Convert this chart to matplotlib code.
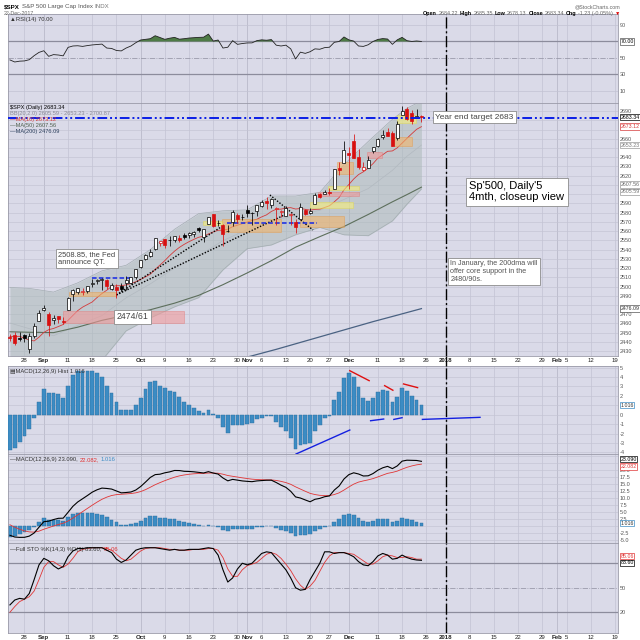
import matplotlib
matplotlib.use("Agg")
import matplotlib.pyplot as plt
import matplotlib.transforms as mtransforms
from matplotlib.lines import Line2D
from matplotlib.patches import Rectangle
import numpy as np
import pandas as pd

plt.rcParams["font.family"] = ["Liberation Sans", "DejaVu Sans"]

# %%
# Price data ($SPX daily, 23 Aug - 22 Dec 2017)
opens = [2444.9, 2447.9, 2444.7, 2447.4, 2431.9, 2446.1, 2462.7, 2474.4, 2470.4, 2463.8,
         2468.1, 2462.3, 2474.5, 2491.9, 2493.9, 2494.6, 2495.7, 2502.5, 2506.3, 2506.8,
         2507.2, 2497.3, 2499.4, 2501.0, 2503.3, 2503.4, 2509.9, 2521.2, 2530.3, 2533.5,
         2540.9, 2547.4, 2551.4, 2550.0, 2550.6, 2552.9, 2555.7, 2555.6, 2557.2, 2562.9,
         2553.4, 2567.6, 2578.1, 2568.7, 2566.5, 2560.1, 2570.3, 2577.8, 2575.0, 2583.2,
         2579.5, 2581.9, 2587.5, 2592.1, 2588.7, 2584.0, 2580.2, 2576.5, 2577.8, 2569.4,
         2573.0, 2582.9, 2579.5, 2589.2, 2600.3, 2600.4, 2602.7, 2605.9, 2627.8, 2633.9,
         2645.1, 2657.2, 2639.8, 2626.2, 2628.4, 2646.2, 2652.2, 2661.7, 2667.6, 2665.9,
         2660.6, 2685.9, 2692.7, 2688.2, 2683.0, 2684.2]
highs = [2448.9, 2450.4, 2451.0, 2449.1, 2449.2, 2460.6, 2475.0, 2480.4, 2472.0, 2469.6,
         2468.6, 2467.1, 2488.9, 2496.8, 2498.4, 2498.4, 2500.2, 2508.3, 2507.8, 2508.9,
         2507.8, 2503.5, 2502.5, 2503.5, 2511.8, 2510.8, 2519.4, 2529.2, 2535.1, 2540.5,
         2552.5, 2549.4, 2551.8, 2555.2, 2555.2, 2555.3, 2557.7, 2559.5, 2559.7, 2564.1,
         2562.4, 2575.4, 2578.3, 2572.2, 2567.4, 2567.1, 2583.0, 2580.0, 2578.3, 2588.4,
         2581.1, 2588.4, 2593.4, 2597.0, 2595.5, 2586.5, 2583.0, 2587.7, 2579.7, 2572.8,
         2590.1, 2584.0, 2584.6, 2601.2, 2600.9, 2604.2, 2606.4, 2627.7, 2634.9, 2657.7,
         2650.6, 2665.2, 2648.7, 2634.4, 2641.0, 2651.6, 2660.3, 2669.7, 2671.9, 2668.1,
         2679.6, 2695.0, 2694.4, 2691.0, 2692.6, 2685.35]
lows = [2441.4, 2436.2, 2441.0, 2439.7, 2428.2, 2443.8, 2462.7, 2473.9, 2446.6, 2459.2,
        2460.3, 2459.4, 2474.5, 2484.5, 2492.1, 2491.0, 2493.2, 2499.9, 2503.2, 2496.7,
        2497.0, 2496.5, 2488.0, 2495.1, 2495.9, 2502.9, 2507.8, 2520.4, 2528.9, 2531.8,
        2540.0, 2543.8, 2541.6, 2544.4, 2548.0, 2548.3, 2552.0, 2552.6, 2554.0, 2559.2,
        2547.9, 2567.6, 2564.3, 2565.6, 2544.0, 2559.4, 2565.9, 2568.6, 2572.2, 2574.9,
        2566.2, 2576.8, 2585.7, 2584.1, 2585.0, 2566.3, 2575.6, 2576.5, 2566.6, 2557.5,
        2573.0, 2577.6, 2578.2, 2589.2, 2596.1, 2600.4, 2598.9, 2605.4, 2620.3, 2633.9,
        2605.5, 2639.3, 2627.7, 2624.8, 2628.4, 2644.1, 2651.5, 2659.8, 2662.9, 2652.0,
        2659.1, 2685.9, 2680.7, 2676.1, 2682.4, 2678.1]
closes = [2444.0, 2439.0, 2443.1, 2444.2, 2446.3, 2457.6, 2471.7, 2476.6, 2457.9, 2465.5,
          2465.1, 2461.4, 2488.1, 2496.5, 2498.4, 2495.6, 2500.2, 2503.9, 2506.7, 2508.2,
          2500.6, 2502.2, 2496.7, 2496.8, 2507.0, 2510.1, 2519.4, 2529.1, 2534.6, 2537.7,
          2552.1, 2549.3, 2544.7, 2550.6, 2555.2, 2550.9, 2553.2, 2557.6, 2559.4, 2561.3,
          2562.1, 2575.2, 2565.0, 2569.1, 2557.2, 2560.4, 2581.1, 2572.8, 2575.3, 2579.4,
          2579.9, 2587.8, 2591.1, 2590.6, 2594.4, 2584.6, 2582.3, 2584.8, 2578.9, 2564.6,
          2585.6, 2578.9, 2582.1, 2599.0, 2597.1, 2602.4, 2601.4, 2627.0, 2626.1, 2647.6,
          2642.2, 2639.4, 2629.6, 2629.3, 2637.0, 2651.5, 2660.0, 2664.1, 2662.9, 2652.0,
          2675.8, 2690.2, 2681.5, 2679.3, 2684.6, 2683.3]
close_before = 2452.51  # 22 Aug close, decides the colour of the first candle

# overlays on the price panel
ma10 = [2445.9, 2445.9, 2446.1, 2444.0, 2442.1, 2441.1, 2445.2, 2450.3, 2453.3, 2454.6,
        2456.7, 2458.9, 2463.4, 2468.7, 2473.9, 2477.7, 2480.5, 2483.3, 2488.1, 2492.4,
        2496.0, 2500.0, 2500.9, 2500.9, 2501.8, 2503.2, 2505.2, 2507.7, 2510.5, 2513.4,
        2518.6, 2523.3, 2528.1, 2533.5, 2538.3, 2542.4, 2545.7, 2548.6, 2551.1, 2553.4,
        2554.4, 2557.0, 2559.1, 2560.9, 2561.1, 2562.1, 2564.8, 2566.4, 2568.0, 2569.8,
        2571.5, 2572.8, 2575.4, 2577.6, 2581.3, 2583.7, 2583.8, 2585.0, 2585.4, 2583.9,
        2584.5, 2583.6, 2582.7, 2583.5, 2583.8, 2585.6, 2587.5, 2591.7, 2596.4, 2604.7,
        2610.4, 2616.4, 2621.2, 2624.2, 2628.2, 2633.1, 2639.0, 2642.7, 2646.4, 2646.8,
        2650.2, 2655.2, 2660.4, 2665.4, 2670.2, 2673.1]
slow_idx = [0, 4, 9, 14, 19, 24, 29, 34, 39, 44, 49, 54, 59, 64, 69, 74, 79, 82, 85]
ma50 = [2451.0, 2450.5, 2450.1, 2456.0, 2463.4, 2469.0, 2474.9, 2482.0, 2490.5, 2502.0,
        2514.7, 2528.0, 2542.6, 2554.0, 2565.0, 2578.0, 2591.7, 2599.5, 2607.6]
bb_upper = [2499, 2498, 2494, 2504, 2517, 2523, 2540, 2562, 2579, 2582,
            2583, 2598, 2598, 2602, 2632, 2657, 2681, 2693, 2700.9]
bb_mid = [2460.5, 2454.4, 2446.7, 2458.0, 2468.5, 2487.8, 2502.9, 2520.0, 2533.4, 2549.7,
          2561.6, 2571.2, 2576.8, 2582.5, 2594.3, 2606.0, 2625.8, 2641.0, 2653.2]
bb_lower = [2422, 2411, 2400, 2410, 2420, 2452, 2466, 2478, 2488, 2518,
            2541, 2545, 2556, 2564, 2556, 2555, 2571, 2589, 2605.6]
ma200_idx = [47, 50, 55, 60, 65, 70, 75, 80, 85]
ma200 = [2421.0, 2425.0, 2432.0, 2439.5, 2447.0, 2454.5, 2462.0, 2469.0, 2476.1]

# indicators
rsi = [47.5, 45.0, 46.0, 46.3, 47.8, 52.7, 56.7, 58.7, 51.9, 54.0,
       53.5, 52.5, 62.8, 64.5, 64.8, 64.0, 65.0, 65.8, 66.3, 66.8,
       62.0, 61.5, 59.0, 58.5, 62.0, 64.5, 68.5, 71.8, 72.6, 73.4,
       77.0, 74.8, 72.6, 74.0, 75.0, 72.8, 73.4, 74.2, 74.6, 75.0,
       75.2, 79.0, 70.5, 71.8, 62.0, 63.0, 71.0, 66.5, 67.5, 68.2,
       68.3, 71.0, 72.0, 71.5, 72.3, 65.5, 64.5, 65.5, 61.0, 48.7,
       57.0, 55.5, 57.5, 61.0, 60.5, 62.5, 63.0, 69.0, 70.0, 75.5,
       72.0, 70.5, 64.5, 64.0, 66.0, 70.0, 72.5, 73.5, 73.0, 66.5,
       72.0, 75.0, 71.0, 70.0, 70.6, 70.0]
macd_hist = [-3.76, -3.5, -2.9, -2.3, -1.5, -0.3, 1.4, 2.7, 2.3, 2.3,
             2.2, 1.8, 3.1, 4.2, 4.6, 4.6, 4.6, 4.65, 4.4, 4.0,
             3.1, 2.3, 1.3, 0.5, 0.5, 0.55, 1.0, 1.8, 2.7, 3.5,
             3.6, 3.0, 2.8, 2.5, 2.4, 1.9, 1.3, 1.0, 0.7, 0.4,
             0.15, 0.5, 0.05, -0.3, -1.35, -1.9, -1.1, -1.1, -1.1, -1.0,
             -0.9, -0.5, -0.3, -0.15, -0.1, -0.75, -1.35, -1.7, -2.5, -3.6,
             -3.2, -3.1, -3.0, -1.7, -1.1, -0.4, -0.1, 1.6, 2.45, 3.95,
             4.4, 4.05, 2.9, 1.75, 1.45, 1.8, 2.4, 2.6, 2.5, 1.35,
             1.85, 2.85, 2.55, 2.0, 1.56, 1.016]
macd_line = [-3.32, -3.94, -4.06, -4.04, -3.61, -2.49, -0.44, 1.54, 1.72, 2.29,
             2.74, 2.79, 4.87, 7.02, 8.57, 9.72, 10.87, 12.08, 12.93, 13.53,
             13.40, 13.18, 12.50, 11.83, 11.95, 12.14, 12.84, 14.09, 15.67, 17.34,
             18.34, 18.49, 18.99, 19.32, 19.82, 19.79, 19.52, 19.47, 19.34, 19.14,
             18.93, 19.40, 18.90, 18.53, 17.14, 16.12, 16.64, 16.37, 16.09, 15.94,
             15.82, 16.09, 16.22, 16.33, 16.35, 15.52, 14.58, 13.80, 12.38, 10.38,
             9.98, 9.30, 8.65, 9.53, 9.85, 10.45, 10.73, 12.83, 14.29, 16.78,
             18.33, 18.99, 18.57, 17.85, 17.92, 18.72, 19.92, 20.77, 21.29, 20.48,
             21.44, 23.15, 23.49, 23.44, 23.39, 23.09]
macd_signal = [0.44, -0.44, -1.16, -1.74, -2.11, -2.19, -1.84, -1.16, -0.59, -0.01,
               0.54, 0.99, 1.77, 2.82, 3.97, 5.12, 6.27, 7.43, 8.53, 9.53,
               10.30, 10.88, 11.20, 11.33, 11.45, 11.59, 11.84, 12.29, 12.97, 13.84,
               14.74, 15.49, 16.19, 16.82, 17.42, 17.89, 18.22, 18.47, 18.64, 18.74,
               18.78, 18.90, 18.90, 18.83, 18.49, 18.02, 17.74, 17.47, 17.19, 16.94,
               16.72, 16.59, 16.52, 16.48, 16.45, 16.27, 15.93, 15.50, 14.88, 13.98,
               13.18, 12.40, 11.65, 11.23, 10.95, 10.85, 10.83, 11.23, 11.84, 12.83,
               13.93, 14.94, 15.67, 16.10, 16.47, 16.92, 17.52, 18.17, 18.79, 19.13,
               19.59, 20.30, 20.94, 21.44, 21.83, 22.08]
sto_k = [29, 35, 37, 36, 43, 60, 78, 86, 83, 77,
         73, 76, 88, 95, 98, 98, 99, 99, 99, 99,
         96, 93, 85, 81, 84, 90, 96, 98, 99, 99,
         99, 98, 97, 96, 97, 96, 96, 97, 97, 97,
         98, 99, 98, 90, 72, 57, 62, 73, 80, 78,
         80, 86, 92, 94, 93, 86, 79, 72, 62, 50,
         47, 48, 60, 70, 80, 94, 94, 92, 93, 93,
         91, 88, 82, 78, 77, 82, 89, 92, 90, 85,
         86, 90, 87, 85, 84, 83.6]
sto_d = [20, 27, 33, 36, 39, 46, 60, 75, 82, 82,
         78, 75, 79, 86, 94, 97, 98, 99, 99, 99,
         98, 96, 91, 86, 83, 85, 90, 95, 98, 99,
         99, 99, 98, 97, 97, 96, 96, 96, 97, 97,
         97, 98, 98, 96, 87, 73, 64, 64, 72, 77,
         79, 81, 86, 91, 93, 91, 86, 79, 71, 61,
         53, 48, 52, 59, 70, 81, 89, 93, 93, 93,
         92, 91, 87, 83, 79, 79, 83, 88, 90, 89,
         87, 87, 88, 87, 85, 85.06]

# hand drawn notes on the chart: (x0, x1, y0, y1) in bar index / price
pink_zones = [(11.0, 36.0, 2461, 2474), (63.7, 72.0, 2598.3, 2602.7), (73.7, 76.8, 2639.5, 2646)]
orange_zones = [(12.1, 22.0, 2490.2, 2493.9), (43.7, 55.9, 2559.5, 2573), (59.9, 68.9, 2564.2, 2576.4),
                (67.6, 70.9, 2621.8, 2635.2), (79.4, 83.0, 2652.1, 2661.6)]
yellow_zones = [(39.9, 43.7, 2567.1, 2570.7), (62.0, 70.9, 2585.4, 2591.8), (65.8, 72.0, 2604.5, 2608.8),
                (79.9, 83.9, 2676.7, 2685.7)]
dotted_lines = [((22.0, 43.7), (2490.9, 2564.8)), ((22.0, 56.5), (2490.9, 2577.0)),
                ((53.7, 62.6), (2599.1, 2561.2))]
fed_level = (17.0, 25.1, 2508.85)
nov_level = (44.8, 63.4, 2568.8)
target_level = 2683
hist_red_marks = [((70.2, 74.2), (4.68, 3.62)), ((77.4, 79.1), (3.09, 2.6)), ((81.3, 84.2), (3.27, 2.88))]
hist_blue_marks = [((59.1, 70.2), (-4.18, -1.63)), ((74.5, 77.2), (-0.64, -0.46)),
                   ((79.3, 81.0), (-0.5, -0.32)), ((85.2, 97.1), (-0.5, -0.28))]

# date axis: trading days, then the empty future part
past_days = pd.bdate_range("2017-08-23", "2017-12-22")
past_days = past_days[~past_days.isin(pd.to_datetime(["2017-09-04", "2017-11-23"]))]
all_days = past_days.append(pd.bdate_range("2017-12-26", "2018-02-20"))
tick_dates = ["2017-08-28", "2017-09-01", "2017-09-11", "2017-09-18", "2017-09-25", "2017-10-02",
              "2017-10-09", "2017-10-16", "2017-10-23", "2017-10-30", "2017-11-01", "2017-11-06",
              "2017-11-13", "2017-11-20", "2017-11-27", "2017-12-01", "2017-12-11", "2017-12-18",
              "2017-12-26", "2018-01-01", "2018-01-08", "2018-01-15", "2018-01-22", "2018-01-29",
              "2018-02-01", "2018-02-05", "2018-02-12", "2018-02-19"]
tick_text = ["28", "Sep", "11", "18", "25", "Oct", "9", "16", "23", "30", "Nov", "6", "13", "20",
             "27", "Dec", "11", "18", "26", "2018", "8", "15", "22", "29", "Feb", "5", "12", "19"]
month_names = {"Sep", "Oct", "Nov", "Dec", "2018", "Feb"}
tick_pos = [all_days.get_loc(pd.Timestamp(d)) for d in tick_dates]
year_pos = all_days.get_loc(pd.Timestamp("2018-01-01"))

x = np.arange(len(closes))
opens, highs, lows, closes = map(np.array, (opens, highs, lows, closes))

# %%
# Figure and panels (pixel rows taken from the 640x640 original)
W = 640.0
fig = plt.figure(figsize=(6.4, 6.4), dpi=100)


def panel(top_px, bottom_px):
    return fig.add_axes([8 / W, 1 - bottom_px / W, 610 / W, (bottom_px - top_px) / W])


ax_rsi = panel(14, 103)
ax_px = panel(103, 356)
ax_hist = panel(366, 454)
ax_macd = panel(454, 543)
ax_sto = panel(543, 633)
panels = [ax_rsi, ax_px, ax_hist, ax_macd, ax_sto]

bg = "#dadae8"
grid_c = "#c3c3d3"
for ax in panels:
    ax.set_facecolor(bg)
    ax.set_xlim(-0.4, 125.6)
    ax.set_xticks(tick_pos)
    ax.set_xticklabels(tick_text)
    ax.tick_params(axis="x", length=0, labelbottom=False, labelsize=4.4, pad=1.5, labelcolor="#222")
    ax.grid(True, axis="x", color=grid_c, lw=0.5)
    ax.yaxis.tick_right()
    ax.tick_params(axis="y", length=0, labelsize=4, labelcolor="#555555", pad=1.5)
    for s in ax.spines.values():
        s.set_color("#9a9aa8")
        s.set_linewidth(0.6)
    ax.set_axisbelow(True)
    for p, t in zip(tick_pos, tick_text):
        if t in month_names:
            ax.axvline(p, color="#acacbe", lw=0.6, zorder=0.5)
    ax.axvline(year_pos, color="black", lw=1.0, ls=(0, (8, 2, 1.5, 2)), zorder=7)

for ax in (ax_px, ax_sto):
    ax.tick_params(axis="x", labelbottom=True)
    for lab in ax.get_xticklabels():
        if lab.get_text() in month_names:
            lab.set_fontweight("bold")

# year line through the gap under the price panel
gap = Line2D([year_pos, year_pos], [1 - 366 / W, 1 - 356 / W], color="black", lw=1.0,
             ls=(0, (8, 2, 1.5, 2)),
             transform=mtransforms.blended_transform_factory(ax_px.transData, fig.transFigure))
fig.add_artist(gap)


def right_ticks(ax, values, hidden, fmt="{:g}"):
    # value tags cover some of the axis labels, as on the original
    ax.set_yticks(values)
    ax.set_yticklabels(["" if any(abs(v - h) < 1e-6 for h in hidden) else fmt.format(v) for v in values])


def tag(ax, y, text, edge="#888888", color="#333333"):
    ax.text(1.004, y, text, transform=ax.get_yaxis_transform(), fontsize=3.8, color=color,
            va="center", ha="left", clip_on=False, zorder=20,
            bbox=dict(boxstyle="square,pad=0.12", fc="white", ec=edge, lw=0.5))


def chain_left(ax, x0, y0, parts, transform, size=4.3):
    s, c, w = parts[0]
    t = ax.text(x0, y0, s, color=c, fontsize=size, fontweight=w, transform=transform,
                va="bottom", ha="left")
    for s, c, w in parts[1:]:
        t = ax.annotate(s, xy=(1, 0), xycoords=t, xytext=(1.2, 0), textcoords="offset points",
                        color=c, fontsize=size, fontweight=w, va="bottom", ha="left",
                        annotation_clip=False)


def chain_right(ax, x0, y0, parts, transform, size=4.3):
    s, c, w = parts[-1]
    t = ax.text(x0, y0, s, color=c, fontsize=size, fontweight=w, transform=transform,
                va="bottom", ha="right")
    for s, c, w in reversed(parts[:-1]):
        t = ax.annotate(s, xy=(0, 0), xycoords=t, xytext=(-1.2, 0), textcoords="offset points",
                        color=c, fontsize=size, fontweight=w, va="bottom", ha="right",
                        annotation_clip=False)


# %%
# Header
ft = fig.transFigure
chain_left(ax_rsi, 4 / W, 1 - 9 / W, [("$SPX", "black", "bold"),
                                      ("S&P 500 Large Cap Index", "#555", "normal"),
                                      ("INDX", "#777", "normal")], ft, size=4.4)
ax_rsi.text(4 / W, 1 - 16 / W, "22-Dec-2017", transform=ft, fontsize=3.8, color="#666", va="bottom")
ax_rsi.text(620 / W, 1 - 9 / W, "@StockCharts.com", transform=ft, fontsize=3.8, color="#666",
            va="bottom", ha="right")
chain_right(ax_rsi, 620 / W, 1 - 16 / W,
            [("Open", "black", "bold"), ("2684.22", "#666", "normal"),
             ("High", "black", "bold"), ("2685.35", "#666", "normal"),
             ("Low", "black", "bold"), ("2678.13", "#666", "normal"),
             ("Close", "black", "bold"), ("2683.34", "#666", "normal"),
             ("Chg", "black", "bold"), ("-1.23 (-0.05%)", "#666", "normal"),
             ("\u25bc", "#dd0000", "normal")], ft, size=3.9)

# %%
# RSI panel
rsi = np.array(rsi)
ax_rsi.set_ylim(-5, 103.5)
right_ticks(ax_rsi, [10, 30, 50, 70, 90], hidden=[70])
for lvl in (10, 90):
    ax_rsi.axhline(lvl, color=grid_c, lw=0.5, zorder=0.5)
for lvl in (30, 70):
    ax_rsi.axhline(lvl, color="#8c8c9c", lw=0.9, zorder=1)
ax_rsi.axhline(50, color="#9a9aaa", lw=0.6, ls="-.", zorder=1)
ax_rsi.fill_between(x, rsi, 70, where=rsi >= 70, interpolate=True, color="#4e7b46", lw=0, zorder=2)
ax_rsi.plot(x, rsi, color="#222222", lw=0.6, zorder=3)
ax_rsi.text(0.004, 1 - 6 / 89, "\u25b2RSI(14) 70.00", transform=ax_rsi.transAxes, fontsize=4.2,
            color="#333", va="center")
tag(ax_rsi, 70, "70.00", edge="#555555", color="black")

# %%
# Price panel
ax_px.set_ylim(2424.8, 2698.7)
right_ticks(ax_px, list(range(2430, 2700, 10)), hidden=[2680, 2670, 2650, 2610, 2600, 2480])
ax_px.grid(True, axis="y", color=grid_c, lw=0.45)

ax_px.fill_between(slow_idx, bb_lower, bb_upper, color="#a9b8b6", alpha=0.5, lw=0, zorder=1)
ax_px.plot(slow_idx, bb_upper, color="#a3adb1", lw=0.5, zorder=1.2)
ax_px.plot(slow_idx, bb_lower, color="#a3adb1", lw=0.5, zorder=1.2)
ax_px.plot(slow_idx, bb_mid, color="#b2b9c0", lw=0.5, zorder=1.2)
ax_px.plot(slow_idx, ma50, color="#5d6f5c", lw=0.8, zorder=2)
ax_px.plot(ma200_idx, ma200, color="#4a6282", lw=0.9, zorder=2)
ax_px.plot(x, ma10, color="#d43a3a", lw=0.6, zorder=2.2)

for zones, fc, ec in ((pink_zones, "#f09a9a", "#e07a7a"),
                      (orange_zones, "#f2b46a", "#e39a4a"),
                      (yellow_zones, "#f7f07a", "#e2d84a")):
    for x0, x1, y0, y1 in zones:
        ax_px.add_patch(Rectangle((x0, y0), x1 - x0, y1 - y0, fc=fc, ec=ec, lw=0.5,
                                  alpha=0.6, zorder=2.5))

for xs, ys in dotted_lines:
    ax_px.plot(xs, ys, color="black", lw=1.0, ls=(0, (1, 1.2)), zorder=3)
ax_px.plot(fed_level[:2], [fed_level[2]] * 2, color="#1428e6", lw=1.1, ls=(0, (3, 1.5)), zorder=3)
ax_px.plot(nov_level[:2], [nov_level[2]] * 2, color="#1428e6", lw=1.1, ls=(0, (3, 1.5)), zorder=3)

# candles
prev = np.r_[close_before, closes[:-1]]
line_col = np.where(closes >= prev, "black", "#d81010")
face_col = np.where(closes > opens, "white", line_col)
ax_px.vlines(x, lows, highs, colors=line_col, lw=0.55, zorder=4)
ax_px.bar(x, np.maximum(np.abs(closes - opens), 0.4), bottom=np.minimum(opens, closes), width=0.62,
          color=face_col, edgecolor=line_col, lw=0.5, zorder=5)

ax_px.axhline(target_level, color="#0a1ee6", lw=1.4, ls=(0, (5, 1.5, 1, 1.5, 1, 1.5)), zorder=6)

legend_rows = [("$SPX (Daily) 2683.34", "black"),
               ("BB(20,2.0) 2605.59 - 2653.23 - 2700.87", "#8a8a96"),
               ("\u2014MA(10) 2673.12", "#d43a3a"),
               ("\u2014MA(50) 2607.56", "#4d5f4c"),
               ("\u2014MA(200) 2476.09", "#2b3f5c")]
for k, (txt, col) in enumerate(legend_rows):
    ax_px.text(0.004, (356 - 107 - 6 * k) / 253, txt, transform=ax_px.transAxes, fontsize=4.1,
               color=col, va="center", zorder=8)

box = dict(boxstyle="square,pad=0.3", fc="white", ec="#8c8c8c", lw=0.6)
ax_px.text(87.9, 2683.4, "Year end target 2683", fontsize=6, color="#444", va="center", bbox=box, zorder=10)
ax_px.text(94.9, 2614, "Sp'500, Daily'5\n4mth, closeup view", fontsize=8, color="black", va="top",
           linespacing=1.15, bbox=box, zorder=10)
ax_px.text(91.0, 2529, "In January, the 200dma will\noffer core support in the\n2480/90s.", fontsize=5.2,
           color="#555", va="top", linespacing=1.25, bbox=box, zorder=10)
ax_px.text(10.0, 2538.5, "2508.85, the Fed\nannounce QT.", fontsize=5.4, color="#444", va="top",
           linespacing=1.25, bbox=box, zorder=10)
ax_px.text(22.1, 2467.4, "2474/61", fontsize=6.3, color="#444", va="center", bbox=box, zorder=10)

tag(ax_px, 2683.34, "2683.34", edge="black", color="black")
tag(ax_px, 2673.12, "2673.12", edge="#d43a3a", color="#d43a3a")
tag(ax_px, 2653.23, "2653.23", edge="#999999", color="#777777")
tag(ax_px, 2610.5, "2607.56", edge="#999999", color="#666666")
tag(ax_px, 2602.5, "2605.59", edge="#999999", color="#777777")
tag(ax_px, 2476.09, "2476.09", edge="#555555", color="#333333")

# %%
# MACD histogram panel
ax_hist.set_ylim(-4.18, 5.18)
right_ticks(ax_hist, list(range(-4, 6)), hidden=[1])
ax_hist.grid(True, axis="y", color=grid_c, lw=0.45)
ax_hist.bar(x, macd_hist, width=0.78, color="#3c8cc4", edgecolor="#2a6c9c", lw=0.3, zorder=3)
for xs, ys in hist_red_marks:
    ax_hist.plot(xs, ys, color="#e01010", lw=1.0, zorder=4)
for xs, ys in hist_blue_marks:
    ax_hist.plot(xs, ys, color="#1420e0", lw=1.0, zorder=4)
ax_hist.text(0.004, 1 - 5 / 88, "\u25a4MACD(12,26,9) Hist 1.016", transform=ax_hist.transAxes,
             fontsize=4.2, color="#333", va="center")
tag(ax_hist, 1.016, "1.016", edge="#3c8cc4", color="#333333")

# %%
# MACD panel
ax_macd.set_ylim(-6.07, 25.7)
right_ticks(ax_macd, list(np.arange(-5, 25.1, 2.5)), hidden=[25.0, 22.5, 0.0], fmt="{:.1f}")
ax_macd.grid(True, axis="y", color=grid_c, lw=0.45)
ax_macd.bar(x, macd_hist, width=0.78, color="#3c8cc4", edgecolor="#2a6c9c", lw=0.3, zorder=2)
ax_macd.plot(x, macd_signal, color="#e03535", lw=0.6, zorder=3)
ax_macd.plot(x, macd_line, color="black", lw=0.8, zorder=4)
chain_left(ax_macd, 0.004, 1 - 8 / 89, [("\u2014MACD(12,26,9) 23.090,", "#333", "normal"),
                                       ("22.082,", "#e03535", "normal"),
                                       ("1.016", "#3c8cc4", "normal")], ax_macd.transAxes, size=4.2)
tag(ax_macd, 23.9, "23.090", edge="black", color="black")
tag(ax_macd, 21.2, "22.082", edge="#e03535", color="#e03535")
tag(ax_macd, 1.016, "1.016", edge="#3c8cc4", color="#333333")

# %%
# Full stochastics panel
ax_sto.set_ylim(-5.4, 104.8)
right_ticks(ax_sto, [20, 50, 80], hidden=[80])
for lvl in (20, 80):
    ax_sto.axhline(lvl, color="#8c8c9c", lw=0.9, zorder=1)
ax_sto.axhline(50, color="#9a9aaa", lw=0.6, ls="-.", zorder=1)
ax_sto.plot(x, sto_d, color="#e03535", lw=0.6, zorder=3)
ax_sto.plot(x, sto_k, color="black", lw=0.8, zorder=4)
chain_left(ax_sto, 0.004, 1 - 9 / 90, [("\u2014Full STO %K(14,3) %D(3) 83.60,", "#333", "normal"),
                                      ("85.06", "#e03535", "normal")], ax_sto.transAxes, size=4.2)
tag(ax_sto, 80.5, "83.60", edge="black", color="black")
tag(ax_sto, 88.5, "85.06", edge="#e03535", color="#e03535")

fig.savefig("out.png", dpi=100)
